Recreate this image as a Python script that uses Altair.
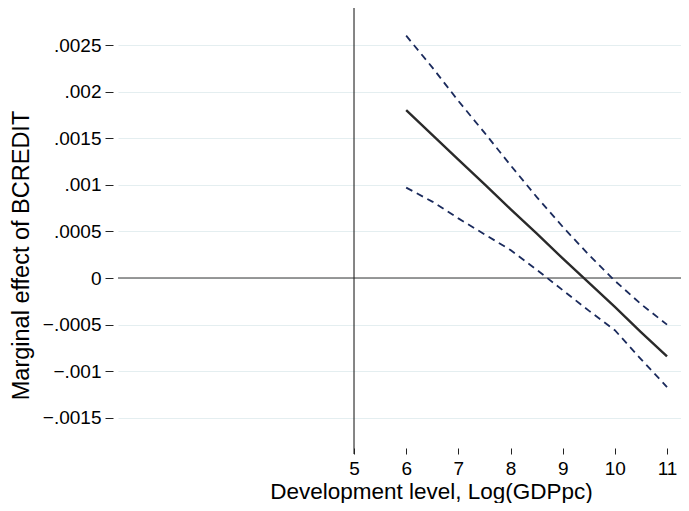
import altair as alt
import pandas as pd

# Values
x_vals = [6, 6.5, 7, 7.5, 8, 8.5, 9, 9.5, 10, 10.5, 11]
effect = [0.0018, 0.001536, 0.00127, 0.001007, 0.00074, 0.00048, 0.00021, -0.00005, -0.00031, -0.00058, -0.00084]
upper = [0.0026, 0.00226, 0.0019, 0.00156, 0.00121, 0.00087, 0.00055, 0.00025, -0.00003, -0.00028, -0.0005]
lower = [0.00097, 0.00082, 0.00064, 0.00047, 0.0003, 0.00009, -0.00013, -0.00035, -0.00056, -0.00087, -0.00117]

x_ticks = [5, 6, 7, 8, 9, 10, 11]
y_ticks = [-0.0015, -0.001, -0.0005, 0, 0.0005, 0.001, 0.0015, 0.002, 0.0025]
x_domain = [0.476, 11.268]
y_domain = [-0.001813, 0.002897]
vline_x = [5]
hline_y = [0]

W, H = 563, 439
FONT = "Liberation Sans"

df = pd.DataFrame({"x": x_vals, "effect": effect, "upper": upper, "lower": lower})

xs = alt.Scale(domain=x_domain, nice=False, zero=False)
ys = alt.Scale(domain=y_domain, nice=False, zero=False)

x_axis = alt.Axis(values=x_ticks, title="Development level, Log(GDPpc)", grid=False, domain=False,
                  tickSize=6, tickColor="#222", tickWidth=1, offset=1, labelPadding=5,
                  labelFontSize=19, labelFont=FONT, labelColor="#000",
                  titleFontSize=22.5, titleFont=FONT, titleFontWeight="normal", titleColor="#000",
                  titleBaseline="alphabetic", titleX=313, titleY=50)
y_axis = alt.Axis(values=y_ticks, title="Marginal effect of BCREDIT", grid=True, gridColor="#e4eef0",
                  gridWidth=1.2, domain=False, tickSize=8, tickColor="#222", tickWidth=1, offset=5,
                  labelPadding=4, labelFontSize=19, labelFont=FONT, labelColor="#000",
                  labelExpr="replace(replace(format(datum.value, '.4~f'), '0.', '.'), '-', '\u2212')",
                  titleFontSize=23.5, titleFont=FONT, titleFontWeight="normal", titleColor="#000",
                  titleBaseline="alphabetic", titleX=-85, titleY=247, titleAngle=270)

base = alt.Chart(df)

axes_layer = base.mark_line(opacity=0).encode(
    x=alt.X("x:Q", scale=xs, axis=x_axis),
    y=alt.Y("effect:Q", scale=ys, axis=y_axis),
)

zero_line = alt.Chart(pd.DataFrame({"y": hline_y})).mark_rule(color="#777777", strokeWidth=1.6).encode(
    y=alt.Y("y:Q", scale=ys)
)
v_line = alt.Chart(pd.DataFrame({"x": vline_x})).mark_rule(color="#222222", strokeWidth=1.1).encode(
    x=alt.X("x:Q", scale=xs), y=alt.value(-2), y2=alt.value(H + 7)
)

up_line = base.mark_line(color="#1a2a5c", strokeWidth=1.8, strokeDash=[7, 5]).encode(
    x=alt.X("x:Q", scale=xs), y=alt.Y("upper:Q", scale=ys)
)
lo_line = base.mark_line(color="#1a2a5c", strokeWidth=1.8, strokeDash=[7, 5]).encode(
    x=alt.X("x:Q", scale=xs), y=alt.Y("lower:Q", scale=ys)
)
mid_line = base.mark_line(color="#2a2a2a", strokeWidth=2.4).encode(
    x=alt.X("x:Q", scale=xs), y=alt.Y("effect:Q", scale=ys)
)

chart = alt.layer(axes_layer, zero_line, v_line, up_line, lo_line, mid_line).properties(
    width=W, height=H,
    autosize=alt.AutoSizeParams(type="none"),
    padding={"left": 110, "top": 0, "right": 0, "bottom": 56},
).configure(background="white").configure_view(strokeWidth=0, stroke="transparent").configure_axis(
    domain=False
).configure_axisX(grid=False)

chart.save("out.html", embed_options={"renderer": "svg", "actions": False})
